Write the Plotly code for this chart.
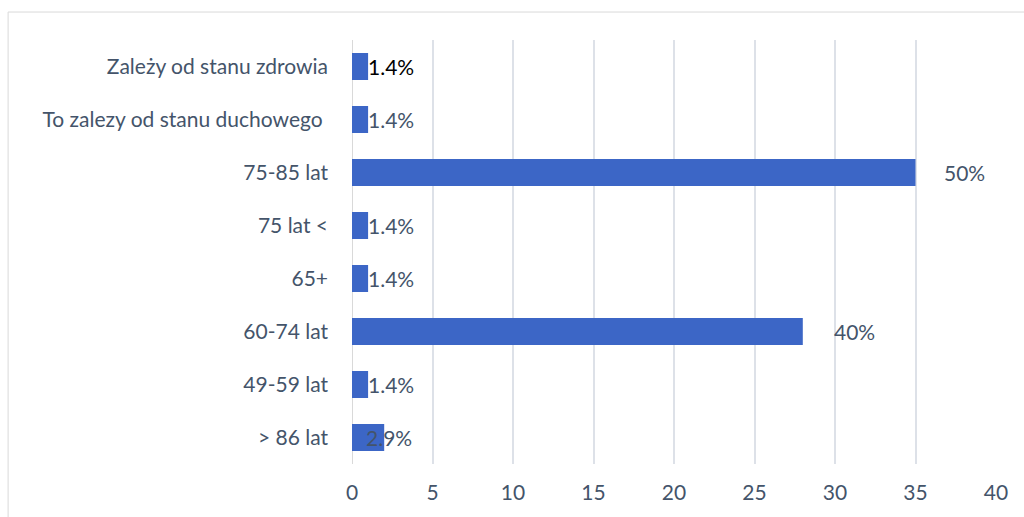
import plotly.graph_objects as go

categories = ["Zależy od stanu zdrowia", "To zalezy od stanu duchowego\u00a0", "75-85 lat", "75 lat <",
              "65+", "60-74 lat", "49-59 lat", "> 86 lat"]
values = [1, 1, 35, 1, 1, 28, 1, 2]
labels = ["1.4%", "1.4%", "50%", "1.4%", "1.4%", "40%", "1.4%", "2.9%"]
label_shift = [0, 0, 28, 0, 0, 31, 0, -18]
label_colors = ["#000000", "#44546A", "#44546A", "#44546A", "#44546A", "#44546A", "#44546A", "#44546A"]
x_ticks = [0, 5, 10, 15, 20, 25, 30, 35, 40]

FONT = "Lato"
FS = 21
fig = go.Figure(go.Bar(
    x=values, y=categories, orientation="h",
    marker=dict(color="#3C66C6", line=dict(width=0)),
))

for c, v, t, s, col in zip(categories, values, labels, label_shift, label_colors):
    fig.add_annotation(x=v, y=c, text=t, showarrow=False, xanchor="left", yanchor="middle",
                       xshift=s - 2, font=dict(family=FONT, size=FS, color=col))

fig.add_shape(type="rect", xref="paper", yref="paper", x0=-0.534, x1=1.06, y0=-0.2, y1=1.066,
              line=dict(color="#D9D9D9", width=1), layer="below")

fig.update_layout(
    width=1024, height=517,
    margin=dict(l=352, r=28, t=40, b=53),
    paper_bgcolor="white", plot_bgcolor="white",
    bargap=0.49, showlegend=False,
    font=dict(family=FONT, size=FS, color="#44546A"),
    xaxis=dict(range=[0, 40], tickvals=x_ticks, showgrid=True, gridcolor="#DDE1E8", gridwidth=2,
               zeroline=False, showline=False, ticks="", ticklabelstandoff=14),
    yaxis=dict(autorange="reversed", showgrid=False, zeroline=False, showline=False,
               ticks="", ticklabelstandoff=23),
)
fig.add_vline(x=0, line=dict(color="#D9D9D9", width=2), layer="below")

fig.write_html("out.html")
